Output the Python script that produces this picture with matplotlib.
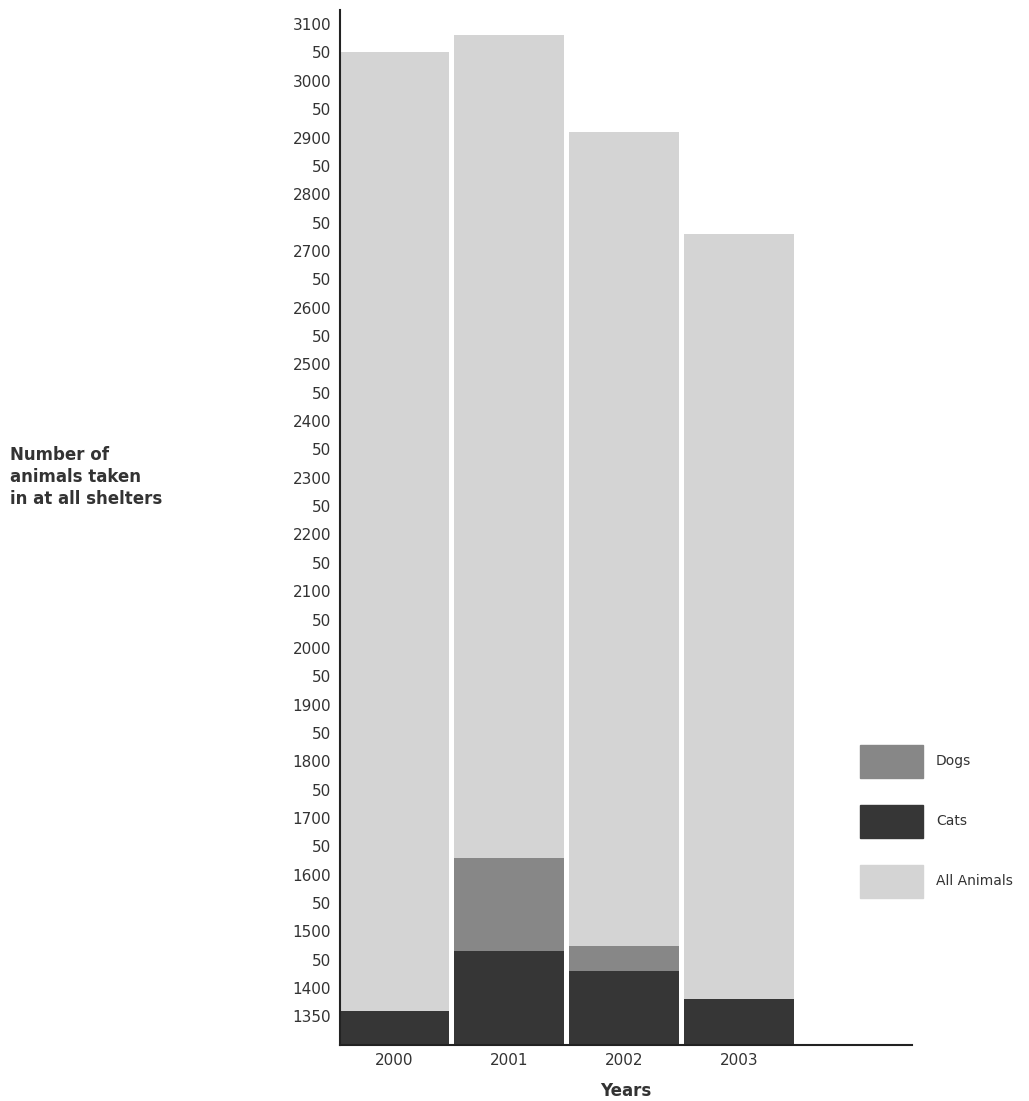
import matplotlib.pyplot as plt
import matplotlib.patches as mpatches
import numpy as np

years = ["2000", "2001", "2002", "2003"]
all_animals = [3050, 3080, 2910, 2730]
cats = [1360, 1465, 1430, 1380]
dogs = [0, 165, 45, 0]  # stacked on top of cats

c_all = "#d4d4d4"
c_dogs = "#878787"
c_cats = "#363636"

fig = plt.figure(figsize=(10.29, 11.01), dpi=100)
ax = fig.add_axes([0.33, 0.051, 0.556, 0.94])

x = np.arange(len(years))
w = 0.955
ymin = 1300
ax.bar(x, np.array(all_animals) - ymin, bottom=ymin, width=w, color=c_all, align="edge")
ax.bar(x, np.array(cats) - ymin, bottom=ymin, width=w, color=c_cats, align="edge")
ax.bar(x, dogs, bottom=cats, width=w, color=c_dogs, align="edge")

ax.set_xlim(0, 4.98)
ax.set_ylim(ymin, 3125)
ax.set_xticks(x + w / 2)
ax.set_xticklabels(years, fontsize=11, color="#333333")
ticks = np.arange(1350, 3101, 50)
ax.set_yticks(ticks)
ax.set_yticklabels([str(t) if t % 100 == 0 or t == 1350 else "50" for t in ticks],
                   fontsize=11, color="#333333")
ax.tick_params(length=0, pad=6)
for s in ["top", "right"]:
    ax.spines[s].set_visible(False)
for s in ["left", "bottom"]:
    ax.spines[s].set_color("#222222")
    ax.spines[s].set_linewidth(1.5)
ax.set_xlabel("Years", fontsize=12, fontweight="bold", color="#333333", labelpad=10)

fig.text(0.01, 0.595, "Number of\nanimals taken\nin at all shelters", fontsize=12,
         fontweight="bold", color="#333333", va="top", linespacing=1.3)

for i, (lab, col) in enumerate([("Dogs", c_dogs), ("Cats", c_cats), ("All Animals", c_all)]):
    ytop = 1 - (745 + i * 60) / 1101
    fig.patches.append(mpatches.Rectangle((860 / 1029, ytop - 33 / 1101), 63 / 1029, 33 / 1101,
                                          transform=fig.transFigure, color=col))
    fig.text(936 / 1029, ytop - 16 / 1101, lab, fontsize=10, color="#333333", va="center")

fig.savefig("out.png")
